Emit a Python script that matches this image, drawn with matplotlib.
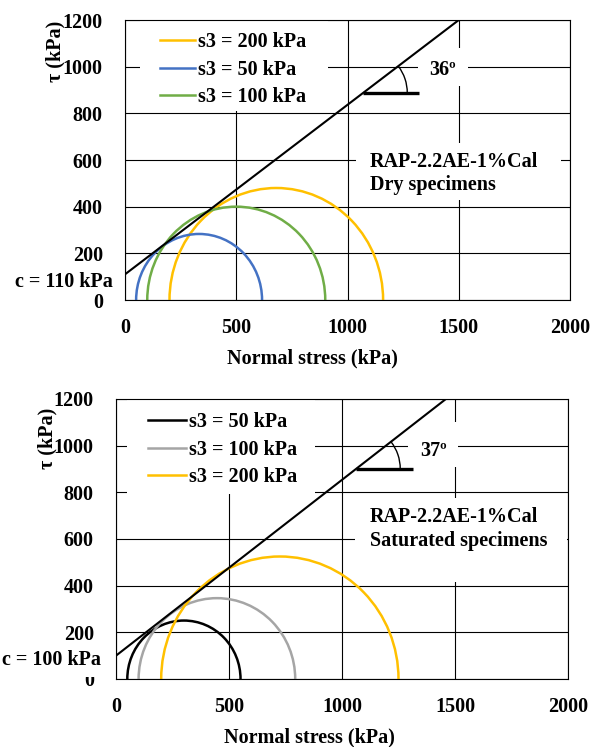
import numpy as np
import matplotlib.pyplot as plt
from matplotlib.patches import Arc, Rectangle
from matplotlib.lines import Line2D

plt.rcParams['font.family'] = 'Liberation Serif'
plt.rcParams['font.weight'] = 'bold'
plt.rcParams['font.size'] = 14.5

W, H = 593, 747

# dane - suche probki (kolejnosc jak w legendzie)
dry_s3 = [200, 50, 100]
dry_s1 = [1160, 616, 900]
dry_labels = ['s3 = 200 kPa', 's3 = 50 kPa', 's3 = 100 kPa']
dry_colors = ['#FFC000', '#4472C4', '#70AD47']
dry_c = 110
dry_phi = 36

# dane - probki nasycone
sat_s3 = [50, 100, 200]
sat_s1 = [551, 793, 1250]
sat_labels = ['s3 = 50 kPa', 's3 = 100 kPa', 's3 = 200 kPa']
sat_colors = ['black', '#A5A5A5', '#FFC000']
sat_c = 100
sat_phi = 37

x_ticks = [0, 500, 1000, 1500, 2000]
y_ticks = [0, 200, 400, 600, 800, 1000, 1200]


def fxy(x, y):
    # piksele (od gory) -> ulamek figury
    return x / W, 1 - y / H


def white_box(ax, x0, y0, x1, y1):
    fx0, fy1 = fxy(x0, y1)
    fx1, fy0 = fxy(x1, y0)
    ax.add_patch(Rectangle((fx0, fy1), fx1 - fx0, fy0 - fy1, transform=fig.transFigure,
                           facecolor='white', edgecolor='none', zorder=1, clip_on=False))


def panel(box, s3, s1, labels, colors, c, phi, mark_y, leg_xy, handle_len):
    left, top, right, bottom = box
    fx0, fy0 = fxy(left, bottom)
    ax = fig.add_axes([fx0, fy0, (right - left) / W, (bottom - top) / H])
    ax.set_xlim(0, 2000)
    ax.set_ylim(0, 1200)
    ax.set_xticks(x_ticks)
    ax.set_yticks(y_ticks)
    ax.set_axisbelow(True)
    ax.grid(True, color='black', lw=0.8)
    for sp in ax.spines.values():
        sp.set_linewidth(0.8)
    ax.tick_params(axis='both', length=0)
    ax.tick_params(axis='x', pad=13)
    ax.tick_params(axis='y', pad=16)

    # kola Mohra
    for a, b, col in zip(s3, s1, colors):
        ax.add_patch(Arc(((a + b) / 2, 0), b - a, b - a, theta1=0, theta2=180,
                         color=col, lw=1.8, zorder=2))

    # obwiednia Coulomba
    t = np.tan(np.radians(phi))
    xs = np.array([0, 2000])
    ax.plot(xs, c + t * xs, color='black', lw=1.5, zorder=3)

    # znacznik kata
    xa = (mark_y - c) / t
    ax.plot([xa, xa + 250], [mark_y, mark_y], color='black', lw=2.4, zorder=3,
            solid_capstyle='butt')
    pxx = (right - left) / 2000
    pxy = (bottom - top) / 1200
    r = 44
    ax.add_patch(Arc((xa, mark_y), 2 * r / pxx, 2 * r / pxy, theta1=0, theta2=phi,
                     color='black', lw=1.0, zorder=3))

    handles = [Line2D([], [], color=col, lw=1.8) for col in colors]
    ax.legend(handles, labels, loc='upper left', bbox_to_anchor=fxy(*leg_xy),
              bbox_transform=fig.transFigure, frameon=False, borderpad=0,
              borderaxespad=0, handlelength=handle_len, handletextpad=0.15,
              labelspacing=0.38, prop={'weight': 'bold', 'size': 14.5})
    return ax


fig = plt.figure(figsize=(W / 100, H / 100), dpi=100)

# gorny wykres
ax1 = panel((125, 20, 570, 300), dry_s3, dry_s1, dry_labels, dry_colors,
            dry_c, dry_phi, 888, (160, 32), 1.75)
white_box(ax1, 140, 21, 328, 111)
white_box(ax1, 418, 48, 468, 86)
white_box(ax1, 356, 143, 561, 200)
fig.text(*fxy(443, 70), f'{dry_phi}º', ha='center', va='center')
fig.text(*fxy(370, 162), 'RAP-2.2AE-1%Cal', ha='left', va='center')
fig.text(*fxy(370, 185), 'Dry specimens', ha='left', va='center')
fig.text(*fxy(113, 282), f'c = {dry_c} kPa', ha='right', va='center')
fig.text(*fxy(55, 51), 'τ (kPa)', rotation=90, ha='center', va='center')
fig.text(*fxy(312, 358), 'Normal stress (kPa)', ha='center', va='center')

# dolny wykres
ax2 = panel((116, 399, 568, 679), sat_s3, sat_s1, sat_labels, sat_colors,
            sat_c, sat_phi, 901, (148, 412), 1.9)
white_box(ax2, 127, 400, 315, 494)
white_box(ax2, 408, 422, 458, 467)
white_box(ax2, 355, 498, 567, 582)
white_box(ax2, 0, 645, 104, 677)
fig.text(*fxy(434, 451), f'{sat_phi}º', ha='center', va='center')
fig.text(*fxy(370, 517), 'RAP-2.2AE-1%Cal', ha='left', va='center')
fig.text(*fxy(370, 541), 'Saturated specimens', ha='left', va='center')
fig.text(*fxy(101, 660), f'c = {sat_c} kPa', ha='right', va='center')
fig.text(*fxy(47, 438), 'τ (kPa)', rotation=90, ha='center', va='center')
fig.text(*fxy(309, 737), 'Normal stress (kPa)', ha='center', va='center')

fig.savefig('out.png', dpi=100)
